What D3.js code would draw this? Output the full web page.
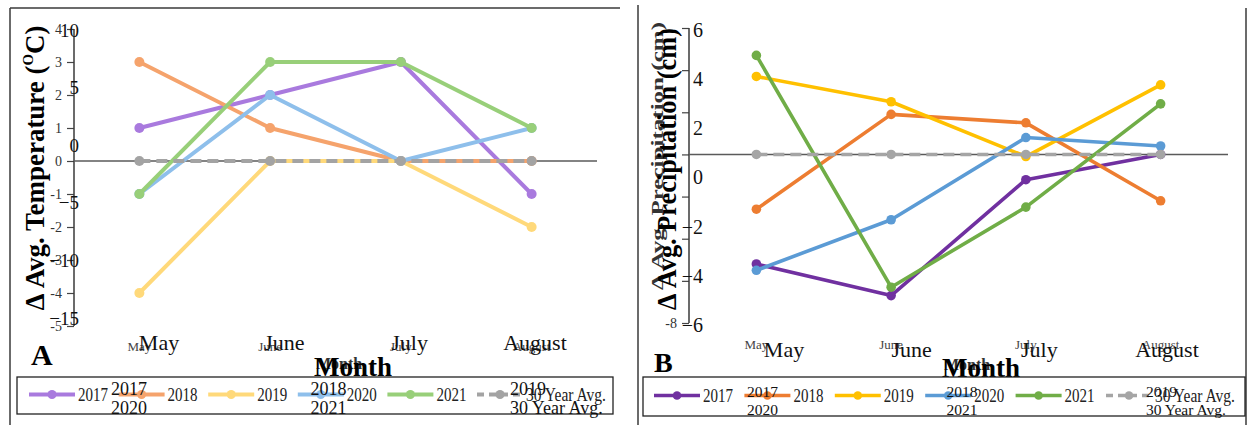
<!DOCTYPE html>
<html><head><meta charset="utf-8">
<script src="https://cdn.jsdelivr.net/npm/d3@7"></script>
<style>body{margin:0;background:#fff}svg{display:block}text{font-family:"Liberation Serif","Times New Roman",serif}</style>
</head><body><svg id="c" width="1248" height="425" font-family="Liberation Serif, Times New Roman, serif"></svg>
<script>
// ---- data ----
const months = ["May", "June", "July", "August"];
const seriesNames = ["2017", "2018", "2019", "2020", "2021", "30 Year Avg."];
const temp2017 = [1, 2, 3, -1];
const temp2018 = [3, 1, 0, 0];
const temp2019 = [-4, 0, 0, -2];
const temp2020 = [-1, 2, 0, 1];
const temp2021 = [-1, 3, 3, 1];
const temp30yr = [0, 0, 0, 0];
const precip2017 = [-5.2, -6.7, -1.2, 0];
const precip2018 = [-2.6, 1.9, 1.5, -2.2];
const precip2019 = [3.7, 2.5, -0.1, 3.3];
const precip2020 = [-5.5, -3.1, 0.8, 0.4];
const precip2021 = [4.7, -6.3, -2.5, 2.4];
const precip30yr = [0, 0, 0, 0];
const tempTicks = [4, 3, 2, 1, 0, -1, -2, -3, -4, -5];
const tempGhostTicks = [10, 5, 0, -5, -10, -15];
const precipTicks = [6, 4, 2, 0, -2, -4, -6, -8];
const precipShownTicks = [-8];
const precipGhostTicks = [6, 4, 2, 0, -2, -4, -6];
const legendOverlay = [["2017", "2020"], ["2018", "2021"], ["2019", "30 Year Avg."]];

const FONT = "Liberation Serif, Times New Roman, serif";
const svg = d3.select("#c");

function drawPanel(o) {
  const g = svg.append("g").attr("font-family", FONT);
  const x = d3.scaleBand().domain(months).range(o.xRange);
  const xg = d3.scalePoint().domain(months).range(o.xGhostRange);
  const y = d3.scaleLinear().domain(o.yDomain).range(o.yRange);
  const yg = d3.scaleLinear().domain(o.ygDomain).range(o.ygRange);

  // frame
  o.frame.forEach(f => g.append("line").attr("x1", f[0]).attr("y1", f[1]).attr("x2", f[2]).attr("y2", f[3])
    .attr("stroke", "#3a3a3a").attr("stroke-width", 1.5));

  // small axis
  const ax = g.append("g").attr("transform", `translate(${o.xRange[0]},0)`)
    .call(d3.axisLeft(y).tickValues(o.ticks).tickSize(7).tickPadding(5)
      .tickFormat(d => (o.shown ? (o.shown.includes(d) ? d : "") : d)));
  ax.attr("font-family", FONT);
  ax.select(".domain").remove();
  ax.selectAll(".tick line").attr("stroke", "#444").attr("stroke-width", 1.2);
  ax.selectAll("text").attr("font-size", o.smallTickSize).attr("fill", "#333");
  g.append("line").attr("x1", o.xRange[0]).attr("x2", o.xRange[0])
    .attr("y1", y(o.ticks[0])).attr("y2", y(o.ticks[o.ticks.length - 1]))
    .attr("stroke", "#3a3a3a").attr("stroke-width", 1.5);

  // ghost big axis labels
  const gax = g.append("g").attr("transform", `translate(${o.ghostLabelX},0)`)
    .call(d3.axisLeft(yg).tickValues(o.ghostTicks).tickSize(0).tickPadding(0));
  gax.attr("font-family", FONT);
  gax.select(".domain").remove();
  gax.selectAll("text").attr("font-size", o.bigTickSize).attr("fill", "#111");

  // zero line
  g.append("line").attr("x1", o.xRange[0]).attr("x2", o.xRange[1])
    .attr("y1", y(0)).attr("y2", y(0)).attr("stroke", "#5a5a5a").attr("stroke-width", 1.6);

  // series
  const line = d3.line().x((d, i) => x(months[i]) + x.bandwidth() / 2).y(d => y(d));
  o.series.forEach((s, k) => {
    const dashed = k === 5;
    g.append("path").attr("d", line(s)).attr("fill", "none").attr("stroke", o.colors[k])
      .attr("stroke-width", o.lw).attr("stroke-linejoin", "round")
      .attr("stroke-dasharray", dashed ? "11,6" : null);
    g.selectAll(null).data(s).enter().append("circle")
      .attr("cx", (d, i) => x(months[i]) + x.bandwidth() / 2).attr("cy", d => y(d))
      .attr("r", o.r).attr("fill", o.colors[k]);
  });

  // x labels (small + big ghost)
  months.forEach(m => {
    g.append("text").attr("x", x(m) + x.bandwidth() / 2).attr("y", o.smallXY)
      .attr("text-anchor", "middle").attr("font-size", 13).attr("fill", "#444").text(m);
    g.append("text").attr("x", xg(m)).attr("y", o.bigXY)
      .attr("text-anchor", "middle").attr("font-size", 22).attr("fill", "#111").text(m);
  });

  // Month titles
  g.append("text").attr("x", o.monthX - 14).attr("y", o.monthY - 7).attr("text-anchor", "middle")
    .attr("font-size", 16).attr("font-weight", "bold").attr("fill", "#333").text("Month");
  g.append("text").attr("x", o.monthX).attr("y", o.monthY).attr("text-anchor", "middle")
    .attr("font-size", 27).attr("font-weight", "bold").attr("fill", "#000").text("Month");

  // panel letter
  g.append("text").attr("x", o.letterX).attr("y", o.letterY).attr("font-size", o.letterSize)
    .attr("font-weight", "bold").text(o.letter);

  // y titles
  o.titles.forEach(t => {
    const tt = g.append("text").attr("transform", `translate(${t.x},${t.cy}) rotate(-90)`)
      .attr("text-anchor", "middle").attr("font-size", t.size).attr("font-weight", "bold")
      .attr("font-family", FONT)
      .attr("fill", t.fill).attr("textLength", t.len).attr("lengthAdjust", "spacingAndGlyphs");
    tt.append("tspan").text(t.pre);
    if (t.sup) {
      tt.append("tspan").attr("font-size", t.size * 0.55).attr("dy", -t.size * 0.4).text(t.sup);
      tt.append("tspan").attr("dy", t.size * 0.4).text(t.post);
    }
  });

  // legend
  const L = o.legend;
  g.append("rect").attr("x", L.x).attr("y", L.y).attr("width", L.w).attr("height", L.h)
    .attr("fill", "#fff").attr("stroke", "#222").attr("stroke-width", 1.3);
  const ly = L.y + L.h / 2 - 1;
  seriesNames.forEach((name, k) => {
    const sx = L.x0 + k * L.step;
    g.append("line").attr("x1", sx).attr("x2", sx + 46).attr("y1", ly).attr("y2", ly)
      .attr("stroke", o.colors[k]).attr("stroke-width", o.lw)
      .attr("stroke-dasharray", k === 5 ? "7,5" : null);
    g.append("circle").attr("cx", sx + 23).attr("cy", ly).attr("r", o.r - 0.5).attr("fill", o.colors[k]);
    g.append("text").attr("x", sx + 49).attr("y", ly + 6).attr("font-size", 19).attr("fill", "#222")
      .attr("textLength", k === 5 ? 80 : 30).attr("lengthAdjust", "spacingAndGlyphs").text(name);
  });
  legendOverlay.forEach((col, c) => {
    col.forEach((t, r) => {
      g.append("text").attr("x", L.ox + c * 199.5).attr("y", L.oy + r * L.orow).attr("font-size", L.ofs)
        .attr("fill", "#111").text(t);
    });
  });
}

drawPanel({
  xRange: [74, 597], xGhostRange: [159, 535],
  yDomain: [-5, 4], yRange: [326, 29],
  ygDomain: [-15, 10], ygRange: [318, 30],
  ticks: tempTicks, ghostTicks: tempGhostTicks, ghostLabelX: 79,
  smallTickSize: 14, bigTickSize: 19,
  frame: [[10, 8, 620, 8], [10, 8, 10, 425]],
  series: [temp2017, temp2018, temp2019, temp2020, temp2021, temp30yr],
  colors: ["#a97ade", "#f5a36c", "#ffd97a", "#8ebfeb", "#98cf79", "#a3a3a3"],
  lw: 4, r: 5,
  smallXY: 351, bigXY: 350,
  monthX: 353, monthY: 376,
  letter: "A", letterX: 31, letterY: 365, letterSize: 30,
  titles: [{ x: 44, cy: 168, size: 28, len: 285, fill: "#000", pre: "Δ Avg. Temperature (", sup: "O", post: "C)" }],
  legend: { x: 17, y: 377, w: 596, h: 37, x0: 29, step: 89.6, ox: 111, oy: 395, orow: 19, ofs: 18 }
});

drawPanel({
  xRange: [689, 1228], xGhostRange: [784, 1167],
  yDomain: [-8, 6], yRange: [323, 28],
  ygDomain: [-6, 6], ygRange: [325, 30],
  ticks: precipTicks, shown: precipShownTicks, ghostTicks: precipGhostTicks, ghostLabelX: 703,
  smallTickSize: 14, bigTickSize: 20,
  frame: [[638, 5, 638, 425], [1246, 8, 1246, 425]],
  series: [precip2017, precip2018, precip2019, precip2020, precip2021, precip30yr],
  colors: ["#7030a0", "#ed7d31", "#ffc000", "#5b9bd5", "#70ad47", "#a5a5a5"],
  lw: 3.6, r: 4.8,
  smallXY: 349, bigXY: 357,
  monthX: 981, monthY: 377,
  letter: "B", letterX: 654, letterY: 372, letterSize: 28,
  titles: [
    { x: 663, cy: 156, size: 17, len: 268, fill: "#333", pre: "Δ Avg. Precipitation (cm)" },
    { x: 676, cy: 169, size: 28, len: 282, fill: "#000", pre: "Δ Avg. Precipitation (cm)" }
  ],
  legend: { x: 643, y: 377, w: 602, h: 39, x0: 654, step: 90.4, ox: 747, oy: 397, orow: 18, ofs: 15.5 }
});
</script></body></html>
